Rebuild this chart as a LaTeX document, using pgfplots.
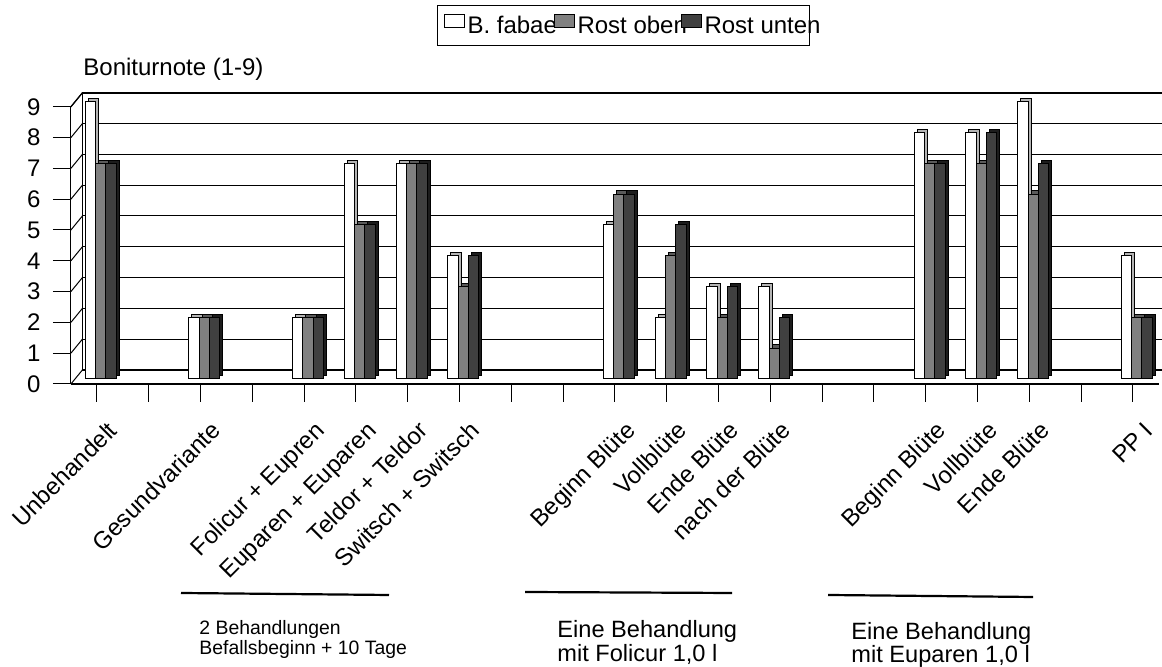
\documentclass[border=0pt]{standalone}
\usepackage{fontspec}
\setmainfont{Liberation Sans}
\usepackage{pgfplots}
\usepackage{pgfplotstable}
\pgfplotsset{compat=1.18}

\definecolor{fabaedepth}{HTML}{B4B4B4}
\definecolor{obenface}{HTML}{808080}
\definecolor{obendepth}{HTML}{5A5A5A}
\definecolor{untenface}{HTML}{404040}
\definecolor{untendepth}{HTML}{1C1C1C}

% Boniturnoten (1-9); x = Position der Variante auf der Achse
\pgfplotstableread{
x  y
0  9
2  2
4  2
5  7
6  7
7  4
10 5
11 2
12 3
13 3
16 8
17 8
18 9
20 4
}\fabae

\pgfplotstableread{
x  y
0  7
2  2
4  2
5  5
6  7
7  3
10 6
11 4
12 2
13 1
16 7
17 7
18 6
20 2
}\oben

\pgfplotstableread{
x  y
0  7
2  2
4  2
5  5
6  7
7  4
10 6
11 5
12 3
13 2
16 7
17 8
18 7
20 2
}\unten

\pgfplotsset{
  plane/.style={scale only axis, width=543.9pt, height=138.6pt,
    xmin=-0.5, xmax=20.5, ymin=0, ymax=9, anchor=south west, clip=false},
  front face/.style={ybar, bar width=5.15pt, bar shift=#1, draw=black, line width=0.5pt,
    /pgfplots/legend image code/.code={\draw[##1, line width=0.5pt] (0pt,-0.6pt) rectangle (10pt,6pt);}},
  depth face/.style={ybar, bar width=5.15pt, bar shift=#1, draw=black, line width=0.5pt,
    yshift=1.65pt, forget plot},
}

\begin{document}
\begin{tikzpicture}

% Rueckwand mit Gitterlinien
\begin{axis}[plane, at={(41.2pt,148.5pt)},
  xtick=\empty, ytick={0,...,9}, yticklabels={}, major tick length=0pt,
  ymajorgrids, major grid style={black, line width=0.5pt},
  axis line style={draw=none}]
  \draw[line width=1pt] (axis cs:-0.5,0) -- (axis cs:20.5,0);
  \draw[line width=0.9pt] (axis cs:-0.5,9) -- (axis cs:20.5,9);
  \draw[line width=0.6pt] (axis cs:-0.5,0) -- (axis cs:-0.5,9);
\end{axis}

% Saeulen
\begin{axis}[plane, at={(37.45pt,144pt)}, hide axis,
  legend columns=3,
  legend style={at={(axis description cs:0.33288,1.35)}, anchor=north west,
    draw=black, line width=0.5pt, inner xsep=3pt, inner ysep=4.5pt,
    font=\fontsize{12pt}{14pt}\selectfont,
    column sep=1.5pt, /tikz/every even column/.append style={column sep=0pt},
    nodes={inner sep=0pt}}]
  \addplot[depth face=-3.65pt, fill=fabaedepth] table {\fabae};
  \addplot[front face=-5.15pt, fill=white] table {\fabae};
  \addlegendentry{\makebox[43pt][l]{B. fabae}}
  \addplot[depth face=1.5pt, fill=obendepth] table {\oben};
  \addplot[front face=0pt, fill=obenface] table {\oben};
  \addlegendentry{\makebox[51.5pt][l]{Rost oben}}
  \addplot[depth face=6.65pt, fill=untendepth] table {\unten};
  \addplot[front face=5.15pt, fill=untenface] table {\unten};
  \addlegendentry{\makebox[49.5pt][l]{Rost unten}}
\end{axis}

% Vorderkante, Achsen und Beschriftung
\begin{axis}[plane, at={(35.45pt,141.5pt)},
  axis x line*=bottom, axis y line*=left,
  x axis line style={line width=1pt, -}, y axis line style={line width=0.6pt, -},
  tick align=outside, major tick length=9pt,
  tick style={black, line width=0.5pt},
  /pgf/number format/assume math mode=true,
  ytick={0,...,9},
  yticklabel style={font=\fontsize{12pt}{14pt}\selectfont, anchor=east, inner sep=0pt, xshift=-6pt},
  xtick={0,...,20},
  xticklabels={Unbehandelt,{},Gesundvariante,{},Folicur + Eupren,Euparen + Euparen,
    Teldor + Teldor,Switsch + Switsch,{},{},Beginn Blüte,Vollblüte,Ende Blüte,
    nach der Blüte,{},{},Beginn Blüte,Vollblüte,Ende Blüte,{},PP I},
  xticklabel style={font=\fontsize{12pt}{14pt}\selectfont, xshift=11pt, yshift=-15pt,
    rotate=45, anchor=base east, inner sep=0pt}]
  \pgfplotsinvokeforeach{0,...,9}{
    \draw[line width=0.5pt] (axis cs:-0.5,#1) -- ++(5.75pt,7pt);
  }
  \draw[line width=0.6pt] (axis cs:-0.5,9) -- ++(5.75pt,7pt);
\end{axis}

% Titel der Wertachse, Gruppenlinien und Gruppentexte
\begin{scope}[x=0.5pt, y=-0.5pt, yshift=333.5pt]
  \node[anchor=base west, inner sep=0pt, font=\fontsize{12pt}{14pt}\selectfont] at (83,76) {Boniturnote (1-9)};
  \draw[line width=1.1pt] (181,593) -- (389,595);
  \draw[line width=1.1pt] (525,592) -- (732,593);
  \draw[line width=1.1pt] (828,595) -- (1033,597);
  \begin{scope}[every node/.style={anchor=base west, inner sep=0pt}]
    \node[font=\fontsize{9.7pt}{11pt}\selectfont] at (199,635) {2 Behandlungen};
    \node[font=\fontsize{9.7pt}{11pt}\selectfont] at (199,655) {Befallsbeginn + 10 Tage};
    \node[font=\fontsize{11.8pt}{14pt}\selectfont] at (557,638) {Eine Behandlung};
    \node[font=\fontsize{11.8pt}{14pt}\selectfont] at (557,662) {mit Folicur 1,0 l};
    \node[font=\fontsize{11.8pt}{14pt}\selectfont] at (851,640) {Eine Behandlung};
    \node[font=\fontsize{11.8pt}{14pt}\selectfont] at (851,663) {mit Euparen 1,0 l};
  \end{scope}
\end{scope}

\pgfresetboundingbox
\path (0pt,0pt) rectangle (581pt,333.5pt);
\end{tikzpicture}
\end{document}
